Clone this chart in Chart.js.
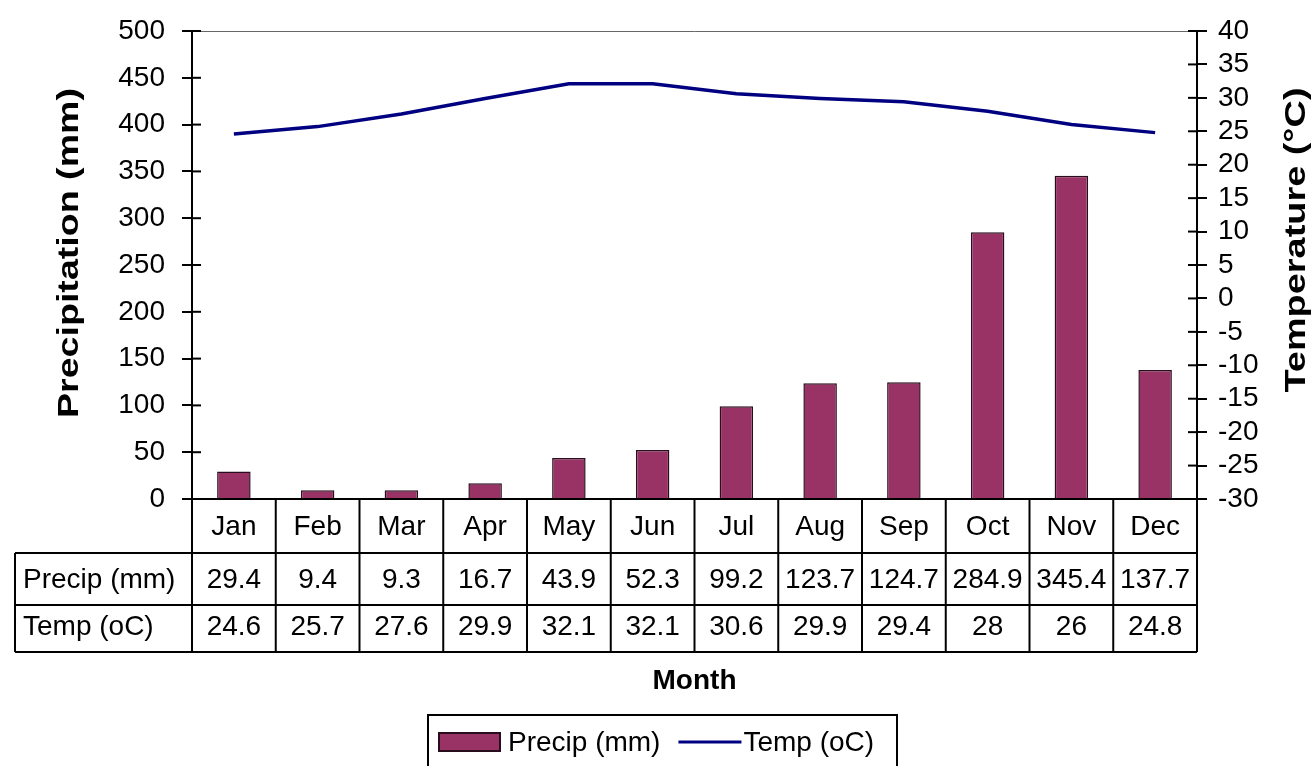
<!DOCTYPE html>
<html><head><meta charset="utf-8">
<script src="https://cdn.jsdelivr.net/npm/chart.js@4.4.0/dist/chart.umd.min.js"></script>
<style>html,body{margin:0;padding:0;background:#fff}canvas{display:block}</style>
</head><body>
<canvas id="c" width="1312" height="766" style="width:1312px;height:766px"></canvas>
<script>
const months = ['Jan','Feb','Mar','Apr','May','Jun','Jul','Aug','Sep','Oct','Nov','Dec'];
const precip = [29.4, 9.4, 9.3, 16.7, 43.9, 52.3, 99.2, 123.7, 124.7, 284.9, 345.4, 137.7];
const temp = [24.6, 25.7, 27.6, 29.9, 32.1, 32.1, 30.6, 29.9, 29.4, 28, 26, 24.8];
const seriesNames = ['Precip (mm)', 'Temp (oC)'];
const leftTitle = 'Precipitation (mm)';
const rightTitle = 'Temperature (°C)';
const xTitle = 'Month';

const FONT = "'Liberation Sans', Arial, sans-serif";
const BAR_COLOR = '#993366';
const BAR_BORDER = '#2a0d1c';
const LINE_COLOR = '#000080';

Chart.defaults.color = '#000';
Chart.defaults.font.family = FONT;

function seg(ctx, x1, y1, x2, y2){ctx.beginPath();ctx.moveTo(x1,y1);ctx.lineTo(x2,y2);ctx.stroke();}

function rotatedTitle(ctx, text, cx, cy, targetLen){
  ctx.save();
  ctx.font = 'bold 29px ' + FONT;
  const w = ctx.measureText(text).width;
  ctx.translate(cx, cy);
  ctx.rotate(-Math.PI / 2);
  ctx.scale(targetLen / w, 1);
  ctx.textAlign = 'center';
  ctx.textBaseline = 'middle';
  ctx.fillText(text, 0, 0);
  ctx.restore();
}

const extras = {
  id: 'extras',
  afterDraw(chart){
    const {ctx, chartArea: ca, scales} = chart;
    const y = scales.y, y1 = scales.y1;
    ctx.save();
    // top border of plot area
    ctx.strokeStyle = '#666'; ctx.lineWidth = 1;
    seg(ctx, ca.left, ca.top + 0.5, ca.right, ca.top + 0.5);
    // inner halves of tick marks
    ctx.strokeStyle = '#000'; ctx.lineWidth = 2;
    y.ticks.forEach((t, i) => { const p = y.getPixelForTick(i); seg(ctx, ca.left, p, ca.left + 9, p); });
    y1.ticks.forEach((t, i) => { const p = y1.getPixelForTick(i); seg(ctx, ca.right - 9, p, ca.right, p); });

    // data table
    const rows = [ca.bottom, ca.bottom + 54, ca.bottom + 106, ca.bottom + 153];
    const tableLeft = 15;
    const n = months.length;
    const cw = (ca.right - ca.left) / n;
    ctx.lineWidth = 2;
    for (let i = 0; i <= n; i++) {
      const bx = ca.left + i * cw;
      seg(ctx, bx, ca.bottom, bx, rows[3]);
    }
    seg(ctx, tableLeft, rows[1], tableLeft, rows[3]);
    for (let r = 1; r <= 3; r++) seg(ctx, tableLeft, rows[r], ca.right, rows[r]);

    ctx.fillStyle = '#000';
    ctx.font = '28px ' + FONT;
    ctx.textBaseline = 'middle';
    const rowData = [precip, temp];
    rowData.forEach((arr, r) => {
      const cy = (rows[r + 1] + rows[r + 2]) / 2 + (r === 0 ? 1 : -1);
      ctx.textAlign = 'left';
      ctx.fillText(seriesNames[r], tableLeft + 8, cy);
      ctx.textAlign = 'center';
      arr.forEach((v, i) => {
        ctx.fillText(String(v), chart.scales.x.getPixelForValue(i), cy);
      });
    });

    // axis titles
    ctx.font = 'bold 28px ' + FONT;
    ctx.textAlign = 'center';
    ctx.fillText(xTitle, (ca.left + ca.right) / 2, 681);
    rotatedTitle(ctx, leftTitle, 70, 253, 330);
    rotatedTitle(ctx, rightTitle, 1297, 240, 305);

    // legend
    const ly = 742;
    ctx.lineWidth = 2; ctx.strokeStyle = '#000';
    ctx.strokeRect(428, 715, 469, 100);
    ctx.font = '28px ' + FONT;
    ctx.textAlign = 'left';
    ctx.textBaseline = 'middle';
    let lx = 439;
    ctx.fillStyle = BAR_COLOR;
    ctx.fillRect(lx, ly - 9, 61, 18);
    ctx.strokeStyle = BAR_BORDER; ctx.lineWidth = 2;
    ctx.strokeRect(lx, ly - 9, 61, 18);
    lx += 69;
    ctx.fillStyle = '#000';
    ctx.fillText(seriesNames[0], lx, ly + 1);
    lx += ctx.measureText(seriesNames[0]).width + 18;
    ctx.strokeStyle = LINE_COLOR; ctx.lineWidth = 3;
    seg(ctx, lx, ly, lx + 63, ly);
    lx += 65;
    ctx.fillText(seriesNames[1], lx, ly + 1);
    ctx.restore();
  }
};

new Chart(document.getElementById('c'), {
  data: {
    labels: months,
    datasets: [
      { type: 'line', label: seriesNames[1], data: temp, yAxisID: 'y1', borderColor: LINE_COLOR,
        borderWidth: 3.5, pointRadius: 0, tension: 0, fill: false, order: 0 },
      { type: 'bar', label: seriesNames[0], data: precip, yAxisID: 'y', backgroundColor: BAR_COLOR,
        borderColor: BAR_BORDER, borderWidth: 1.5, categoryPercentage: 1, barPercentage: 0.4, order: 1 }
    ]
  },
  options: {
    responsive: false,
    animation: false,
    layout: { padding: { top: 25, left: 0, right: 0, bottom: 0 } },
    plugins: { legend: { display: false }, tooltip: { enabled: false } },
    scales: {
      x: {
        type: 'category', offset: true,
        grid: { display: false },
        border: { display: true, color: '#000', width: 2 },
        ticks: { font: { size: 28 }, padding: 3, maxRotation: 0, autoSkip: false },
        afterFit(s) { s.height = 267; }
      },
      y: {
        position: 'left', min: 0, max: 500,
        ticks: { stepSize: 50, font: { size: 28, lineHeight: 1 }, padding: 17, autoSkip: false },
        grid: { drawOnChartArea: false, drawTicks: true, tickLength: 10, color: '#000', lineWidth: 2 },
        border: { display: true, color: '#000', width: 2 },
        afterFit(s) { s.width = 192; }
      },
      y1: {
        position: 'right', min: -30, max: 40,
        ticks: { stepSize: 5, font: { size: 28, lineHeight: 1 }, padding: 11, autoSkip: false, maxTicksLimit: 30 },
        grid: { drawOnChartArea: false, drawTicks: true, tickLength: 10, color: '#000', lineWidth: 2 },
        border: { display: true, color: '#000', width: 2 },
        afterFit(s) { s.width = 115; }
      }
    }
  },
  plugins: [extras]
});
</script>
</body></html>
